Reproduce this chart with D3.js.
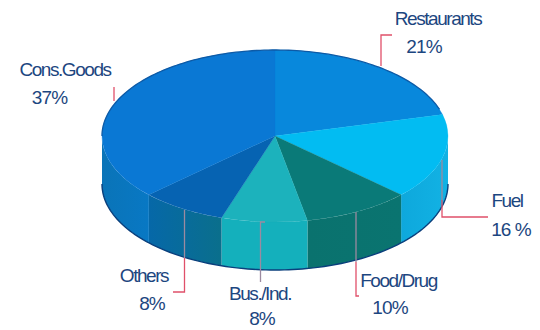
<!DOCTYPE html>
<html>
<head>
<meta charset="utf-8">
<script src="https://cdn.jsdelivr.net/npm/d3@7"></script>
<style>
html,body{margin:0;padding:0;background:#fff}
svg{display:block}
text{font-family:"Liberation Sans",Arial,sans-serif;fill:#1c4680;font-size:19px;text-anchor:middle}
text.name{letter-spacing:-1.45px}
text.share{letter-spacing:-0.9px}
</style>
</head>
<body>
<svg id="chart" width="540" height="330"></svg>
<script>
// Spending shares by merchant category
const categories = ["Restaurants", "Fuel", "Food/Drug", "Bus./Ind.", "Others", "Cons.Goods"];
const shares = [21, 16, 10, 8, 8, 37];
const shareLabels = ["21%", "16 %", "10%", "8%", "8%", "37%"];

// Disc geometry
const cx = 275, cy = 136, rx = 173, ry = 86, depth = 48;

// Appearance per slice, in category order
const topColors = ["#0888dc", "#02bcf2", "#0a7a78", "#1cb2bc", "#0663b2", "#0a78d4"];
const wallStops = [
  ["#0880c8", "#0880c8"],
  ["#12b2e4", "#0ea8dc"],
  ["#0a7470", "#0a726e"],
  ["#14b0bc", "#14b0bc"],
  ["#0a6f8c", "#0668a8"],
  ["#0878c4", "#0a74b8"]
];

// Label placement: [name x, name y, share x, share y]
const labelAt = [
  [438, 25, 424, 53],
  [507, 207, 511, 236],
  [398.5, 287, 390, 314],
  [260, 300, 262, 325],
  [144, 282, 152, 310],
  [65, 76, 49.5, 104]
];
// Leader polylines drawn in two tones: over the disc and outside it
const leaders = [
  {inner: [], outer: [[381, 66], [381, 35], [392, 35]]},
  {inner: [[442, 160], [442, 200]], outer: [[442, 200], [442, 217], [488, 217]]},
  {inner: [[356, 212], [356, 262]], outer: [[356, 262], [356, 296], [359, 296]]},
  {inner: [[265, 222], [260.5, 222], [260.5, 282]], outer: []},
  {inner: [[184.5, 210], [184.5, 258]], outer: [[184.5, 258], [184.5, 292], [173, 292]]},
  {inner: [], outer: [[114, 87], [114, 101]]}
];

const svg = d3.select("#chart");
const defs = svg.append("defs");

const pie = d3.pie().value(d => d).sort(null);
const arcs = pie(shares);

// Top face: a flat pie squashed vertically into an ellipse
const xOf = t => cx + rx * Math.sin(t);
const yOf = t => cy - ry * Math.cos(t);

// Side walls: only the front half of the rim (90 to 270 degrees) can be seen
const frontStart = Math.PI / 2, frontEnd = Math.PI * 1.5;
const wall = d3.area().x(d => xOf(d)).y0(d => yOf(d)).y1(d => yOf(d) + depth);

arcs.forEach((a, i) => {
  const from = Math.max(a.startAngle, frontStart);
  const to = Math.min(a.endAngle, frontEnd);
  if (to <= from) return;
  const grad = defs.append("linearGradient")
    .attr("id", "wall" + i).attr("gradientUnits", "userSpaceOnUse")
    .attr("x1", xOf(from)).attr("x2", xOf(to)).attr("y1", 0).attr("y2", 0);
  grad.append("stop").attr("offset", 0).attr("stop-color", wallStops[i][0]);
  grad.append("stop").attr("offset", 1).attr("stop-color", wallStops[i][1]);
  svg.append("path")
    .datum(d3.range(0, 41).map(k => from + (to - from) * k / 40))
    .attr("d", wall)
    .attr("fill", `url(#wall${i})`);
});

// Dark line along the lower rim
const rimAngles = d3.range(0, 121).map(k => frontStart + (frontEnd - frontStart) * k / 120);
svg.append("path")
  .datum(rimAngles)
  .attr("d", d3.line().x(d => xOf(d)).y(d => yOf(d) + depth))
  .attr("fill", "none").attr("stroke", "#0a3f7c").attr("stroke-width", 1.4);

const face = svg.append("g")
  .attr("transform", `translate(${cx},${cy}) scale(1,${ry / rx})`);
const arcGen = d3.arc().innerRadius(0).outerRadius(rx);
face.selectAll("path.slice").data(arcs).join("path")
  .attr("class", "slice")
  .attr("d", arcGen)
  .attr("fill", (d, i) => topColors[i])
  .attr("stroke", (d, i) => topColors[i])
  .attr("stroke-width", 0.4);

// Darker edge along the back of the top face
const backAngles = d3.range(0, 121).map(k => -Math.PI * 0.5 + Math.PI * 0.9 * k / 120);
svg.append("path")
  .datum(backAngles)
  .attr("d", d3.line().x(d => xOf(d)).y(d => yOf(d)))
  .attr("fill", "none").attr("stroke", "#0d5aa6").attr("stroke-width", 1.3);

// Leaders
const path = d3.line();
leaders.forEach(l => {
  if (l.inner.length) svg.append("path").attr("d", path(l.inner))
    .attr("fill", "none").attr("stroke", "#9c8aa0").attr("stroke-width", 1.3);
  if (l.outer.length) svg.append("path").attr("d", path(l.outer))
    .attr("fill", "none").attr("stroke", "#e0506a").attr("stroke-width", 1.3);
});

// Category names and shares
categories.forEach((c, i) => {
  const p = labelAt[i];
  svg.append("text").attr("class", "name").attr("x", p[0]).attr("y", p[1]).text(c);
  svg.append("text").attr("class", "share").attr("x", p[2]).attr("y", p[3]).text(shareLabels[i]);
});
</script>
</body>
</html>
